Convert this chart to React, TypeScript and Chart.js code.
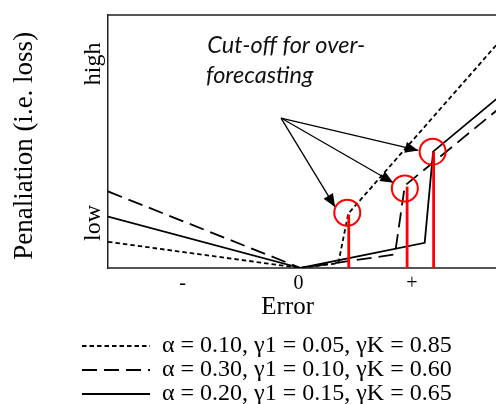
import React, { useEffect, useRef } from 'react';
import { Chart, registerables } from 'chart.js';

Chart.register(...registerables);

// ---- data (error units vs penalty units) ----
const seriesLabels = [
  'α = 0.10, γ1 = 0.05, γK = 0.85',
  'α = 0.30, γ1 = 0.10, γK = 0.60',
  'α = 0.20, γ1 = 0.15, γK = 0.65',
];
const dottedX = [-194, 0, 38, 48, 198];
const dottedY = [27, 0, 5, 56, 231];
const dashedX = [-194, 0, 95, 105, 198];
const dashedY = [79, 0, 14, 85, 163];
const solidX = [-194, 0, 125, 133.5, 198];
const solidY = [53, 0, 26, 120, 175];

const cutoffX = [47, 105, 133];
const cutoffY = [57, 82, 120];
const cutoffLineX = [48.5, 107.3, 134];
const cutoffLineY = [55, 84, 120];

const arrowStartX = -19.7;
const arrowStartY = 154.7;
const arrowTipX = [34.7, 93.5, 118.5];
const arrowTipY = [63, 88, 121.3];

const xTickValues = [-119, -2, 112];
const xTickLabels = ['-', '0', '+'];
const yTickValues = [210.5, 46.5];
const yTickLabels = ['high', 'low'];

const xTitle = 'Error';
const yTitle = 'Penaliation (i.e. loss)';
const noteLines = ['Cut-off for over-', 'forecasting'];
const noteX = [-94, -95.3];
const noteY = [221.3, 191.3];

const SERIF = "'Liberation Serif', 'Times New Roman', serif";

const pts = (xs: number[], ys: number[]) => xs.map((x, i) => ({ x, y: ys[i] }));

const textPlugin = {
  id: 'customText',
  afterDatasetsDraw(chart: any) {
    const { ctx, scales } = chart;
    const xs = scales.x;
    const ys = scales.y;
    // arrow heads
    ctx.save();
    ctx.fillStyle = '#000';
    arrowTipX.forEach((tx, i) => {
      const x0 = xs.getPixelForValue(arrowStartX);
      const y0 = ys.getPixelForValue(arrowStartY);
      const x1 = xs.getPixelForValue(tx);
      const y1 = ys.getPixelForValue(arrowTipY[i]);
      const a = Math.atan2(y1 - y0, x1 - x0);
      const len = 13;
      const hw = 5.5;
      ctx.beginPath();
      ctx.moveTo(x1, y1);
      ctx.lineTo(x1 - len * Math.cos(a) + hw * Math.sin(a), y1 - len * Math.sin(a) - hw * Math.cos(a));
      ctx.lineTo(x1 - len * Math.cos(a) - hw * Math.sin(a), y1 - len * Math.sin(a) + hw * Math.cos(a));
      ctx.closePath();
      ctx.fill();
    });
    ctx.restore();
  },
  afterDraw(chart: any) {
    const { ctx, scales, chartArea } = chart;
    const xs = scales.x;
    const ys = scales.y;
    ctx.save();
    // annotation
    ctx.fillStyle = '#111';
    ctx.font = "italic 23.5px Lato, 'Open Sans', sans-serif";
    ctx.textAlign = 'left';
    ctx.textBaseline = 'alphabetic';
    noteLines.forEach((t, i) => {
      ctx.fillText(t, xs.getPixelForValue(noteX[i]), ys.getPixelForValue(noteY[i]));
    });
    // y tick labels (rotated)
    ctx.fillStyle = '#000';
    ctx.font = `24px ${SERIF}`;
    ctx.textAlign = 'center';
    yTickValues.forEach((v, i) => {
      ctx.save();
      ctx.translate(chartArea.left - 8, ys.getPixelForValue(v));
      ctx.rotate(-Math.PI / 2);
      ctx.fillText(yTickLabels[i], 0, 0);
      ctx.restore();
    });
    // y title
    ctx.font = `27px ${SERIF}`;
    ctx.save();
    ctx.translate(chartArea.left - 76, ys.getPixelForValue(126));
    ctx.rotate(-Math.PI / 2);
    ctx.fillText(yTitle, 0, 0);
    ctx.restore();
    // x title
    ctx.font = `25px ${SERIF}`;
    ctx.fillText(xTitle, xs.getPixelForValue(-13), chartArea.bottom + 46.3);
    ctx.restore();
  },
};

export default function App() {
  const ref = useRef<HTMLCanvasElement | null>(null);
  useEffect(() => {
    if (!ref.current) return;
    const lineBase = {
      type: 'line' as const,
      borderColor: '#000',
      backgroundColor: '#000',
      borderWidth: 1.8,
      pointRadius: 0,
      fill: false,
      tension: 0,
      order: 2,
    };
    const datasets: any[] = [
      { ...lineBase, label: seriesLabels[0], data: pts(dottedX, dottedY), borderDash: [4.5, 3] },
      { ...lineBase, label: seriesLabels[1], data: pts(dashedX, dashedY), borderDash: [15, 7] },
      { ...lineBase, label: seriesLabels[2], data: pts(solidX, solidY) },
    ];
    cutoffLineX.forEach((x, i) => {
      datasets.push({
        type: 'line',
        label: 'cutoff' + i,
        data: [{ x, y: 0 }, { x, y: cutoffLineY[i] }],
        borderColor: '#ff0000',
        borderWidth: 2.8,
        pointRadius: 0,
        order: 0,
      });
    });
    arrowTipX.forEach((x, i) => {
      datasets.push({
        type: 'line',
        label: 'arrow' + i,
        data: [{ x: arrowStartX, y: arrowStartY }, { x, y: arrowTipY[i] }],
        borderColor: '#000',
        borderWidth: 1.3,
        pointRadius: 0,
        order: 1,
      });
    });
    datasets.push({
      type: 'scatter',
      label: 'circles',
      data: pts(cutoffX, cutoffY),
      showLine: false,
      pointRadius: 13,
      pointBorderColor: '#ff0000',
      pointBackgroundColor: 'rgba(0,0,0,0)',
      pointBorderWidth: 2,
      order: -1,
    });

    const defaultGen = (Chart.defaults as any).plugins.legend.labels.generateLabels;

    const chart = new Chart(ref.current, {
      type: 'line',
      data: { datasets },
      plugins: [textPlugin],
      options: {
        animation: false,
        responsive: true,
        maintainAspectRatio: false,
        devicePixelRatio: 1,
        layout: { padding: { left: 82, right: 12, top: 7, bottom: 0 } },
        plugins: {
          tooltip: { enabled: false },
          legend: {
            display: true,
            position: 'bottom',
            align: 'start',
            labels: {
              generateLabels: (c: any) =>
                defaultGen(c).map((item: any) => {
                  const ds = c.data.datasets[item.datasetIndex];
                  return {
                    ...item,
                    lineDash: ds.borderDash || [],
                    lineWidth: 2,
                    strokeStyle: '#000',
                    pointStyle: 'line',
                  };
                }),
              filter: (item: any) => item.datasetIndex < 3,
              usePointStyle: true,
              pointStyle: 'line',
              pointStyleWidth: 68,
              padding: 0,
              color: '#000',
              font: { family: SERIF, size: 24 },
            },
          },
        },
        scales: {
          x: {
            type: 'linear',
            position: 'bottom',
            min: -194,
            max: 220,
            afterFit: (s: any) => {
              s.height = 66;
            },
            afterBuildTicks: (s: any) => {
              s.ticks = xTickValues.map((v) => ({ value: v }));
            },
            ticks: {
              autoSkip: false,
              maxRotation: 0,
              minRotation: 0,
              padding: 4,
              color: '#000',
              font: { family: SERIF, size: 20 },
              callback: (_v: any, i: number) => xTickLabels[i],
            },
            grid: { display: false, drawTicks: false },
            border: { display: true, color: '#555', width: 2 },
          },
          xTop: {
            type: 'linear',
            position: 'top',
            min: -194,
            max: 220,
            afterFit: (s: any) => {
              s.height = 0;
            },
            ticks: { display: false },
            grid: { display: false, drawTicks: false },
            border: { display: true, color: '#555', width: 2 },
          },
          y: {
            type: 'linear',
            position: 'left',
            min: 0,
            max: 261,
            afterFit: (s: any) => {
              s.width = 26;
            },
            ticks: { display: false },
            grid: { display: false, drawTicks: false },
            border: { display: true, color: '#222', width: 1.5 },
          },
        },
      } as any,
    });
    return () => chart.destroy();
  }, []);

  return (
    <div style={{ position: 'absolute', left: 0, top: 0, width: 496, height: 404, overflow: 'hidden', background: '#fff' }}>
      <div style={{ position: 'relative', width: 534, height: 416 }}>
        <canvas ref={ref} style={{ display: 'block' }} />
      </div>
    </div>
  );
}
